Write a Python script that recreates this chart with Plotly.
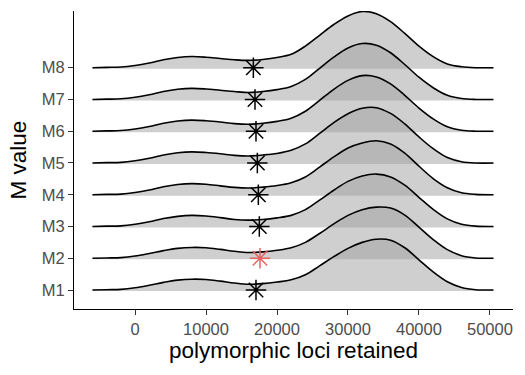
import plotly.graph_objects as go

groups = ["M1", "M2", "M3", "M4", "M5", "M6", "M7", "M8"]
x_grid = [-6000, -4000, -2000, 0, 2000, 4000, 6000, 8000, 10000, 12000, 14000,
          16000, 18000, 20000, 22000, 24000, 26000, 28000, 30000, 32000, 34000,
          36000, 38000, 40000, 42000, 44000, 46000, 48000, 50500]

dens_M1 = [0.00, 0.01, 0.02, 0.07, 0.15, 0.24, 0.31, 0.34, 0.33, 0.28, 0.22, 0.18, 0.20, 0.25, 0.32,
           0.48, 0.76, 1.05, 1.31, 1.50, 1.60, 1.57, 1.33, 0.95, 0.57, 0.26, 0.08, 0.01, 0.00]
dens_M2 = [0.00, 0.01, 0.02, 0.07, 0.15, 0.24, 0.31, 0.34, 0.33, 0.28, 0.22, 0.18, 0.20, 0.25, 0.33,
           0.50, 0.78, 1.08, 1.35, 1.53, 1.61, 1.58, 1.36, 0.98, 0.59, 0.27, 0.08, 0.01, 0.00]
dens_M3 = [0.00, 0.01, 0.02, 0.07, 0.15, 0.25, 0.32, 0.35, 0.33, 0.28, 0.22, 0.20, 0.22, 0.27, 0.35,
           0.53, 0.83, 1.14, 1.42, 1.59, 1.65, 1.56, 1.30, 0.92, 0.54, 0.24, 0.07, 0.01, 0.00]
dens_M4 = [0.00, 0.01, 0.02, 0.07, 0.15, 0.25, 0.32, 0.35, 0.33, 0.28, 0.23, 0.21, 0.24, 0.29, 0.38,
           0.56, 0.87, 1.19, 1.47, 1.63, 1.70, 1.60, 1.31, 0.90, 0.51, 0.22, 0.06, 0.01, 0.00]
dens_M5 = [0.00, 0.01, 0.02, 0.07, 0.15, 0.25, 0.32, 0.35, 0.33, 0.29, 0.24, 0.22, 0.25, 0.30, 0.40,
           0.60, 0.93, 1.27, 1.55, 1.72, 1.74, 1.56, 1.23, 0.82, 0.45, 0.17, 0.04, 0.00, 0.00]
dens_M6 = [0.00, 0.01, 0.02, 0.07, 0.15, 0.25, 0.32, 0.35, 0.33, 0.29, 0.24, 0.22, 0.25, 0.31, 0.41,
           0.63, 0.97, 1.32, 1.60, 1.75, 1.71, 1.49, 1.13, 0.73, 0.39, 0.14, 0.03, 0.00, 0.00]
dens_M7 = [0.00, 0.01, 0.02, 0.07, 0.15, 0.25, 0.32, 0.35, 0.33, 0.29, 0.25, 0.22, 0.25, 0.31, 0.41,
           0.63, 0.98, 1.33, 1.62, 1.76, 1.71, 1.47, 1.10, 0.70, 0.37, 0.13, 0.03, 0.00, 0.00]
dens_M8 = [0.00, 0.01, 0.02, 0.07, 0.15, 0.25, 0.32, 0.35, 0.33, 0.29, 0.25, 0.23, 0.26, 0.32, 0.42,
           0.68, 1.02, 1.36, 1.63, 1.77, 1.70, 1.45, 1.08, 0.68, 0.35, 0.12, 0.03, 0.00, 0.00]

marker_x = [17040, 17600, 17510, 17370, 17230, 17040, 16900, 16670]
marker_color = ["black", "#E46464", "black", "black", "black", "black", "black", "black"]

densities = [dens_M1, dens_M2, dens_M3, dens_M4, dens_M5, dens_M6, dens_M7, dens_M8]

fig = go.Figure()
FILL = "rgba(160,160,160,0.5)"
# draw top ridge first so lower ridges overlay it
for i in range(len(groups) - 1, -1, -1):
    base = i + 1
    fig.add_trace(go.Scatter(
        x=x_grid, y=[base - 0.035] * len(x_grid), mode="lines",
        line=dict(width=0, color="rgba(0,0,0,0)"), hoverinfo="skip", showlegend=False))
    fig.add_trace(go.Scatter(
        x=x_grid, y=[base + d for d in densities[i]], mode="lines",
        line=dict(color="black", width=1.6, shape="spline", smoothing=1),
        fill="tonexty", fillcolor=FILL, hoverinfo="skip", showlegend=False))

fig.add_trace(go.Scatter(
    x=marker_x, y=list(range(1, len(groups) + 1)), mode="markers",
    marker=dict(symbol="asterisk-open", size=17, color=marker_color,
                line=dict(width=1.5, color=marker_color)),
    showlegend=False))

fig.update_layout(
    width=525, height=375,
    margin=dict(l=74, r=12, t=11, b=66),
    paper_bgcolor="white", plot_bgcolor="white",
    font=dict(family="Liberation Sans, Arial, sans-serif", color="black"),
    showlegend=False,
    xaxis=dict(
        range=[-8600, 53250], tickvals=[0, 10000, 20000, 30000, 40000, 50000],
        ticktext=["0", "10000", "20000", "30000", "40000", "50000"],
        showgrid=False, zeroline=False, showline=True, linecolor="black", linewidth=1.2,
        ticks="outside", ticklen=5, tickwidth=1.1, tickcolor="#333333",
        tickfont=dict(size=16.5, color="#4D4D4D"), automargin=False,
        title=dict(text="polymorphic loci retained", font=dict(size=22.5, color="black"), standoff=4),
    ),
    yaxis=dict(
        range=[0.402, 9.785], tickvals=list(range(1, len(groups) + 1)), ticktext=groups,
        showgrid=False, zeroline=False, showline=True, linecolor="black", linewidth=1.2,
        ticks="outside", ticklen=5, tickwidth=1.1, tickcolor="#333333",
        tickfont=dict(size=16.5, color="#4D4D4D"), automargin=False,
        title=dict(text="M value", font=dict(size=22.5, color="black"), standoff=8),
    ),
)

fig.write_html("out.html", config={"displayModeBar": False},
               post_script="document.body.style.margin='0';document.body.style.overflow='hidden';")
